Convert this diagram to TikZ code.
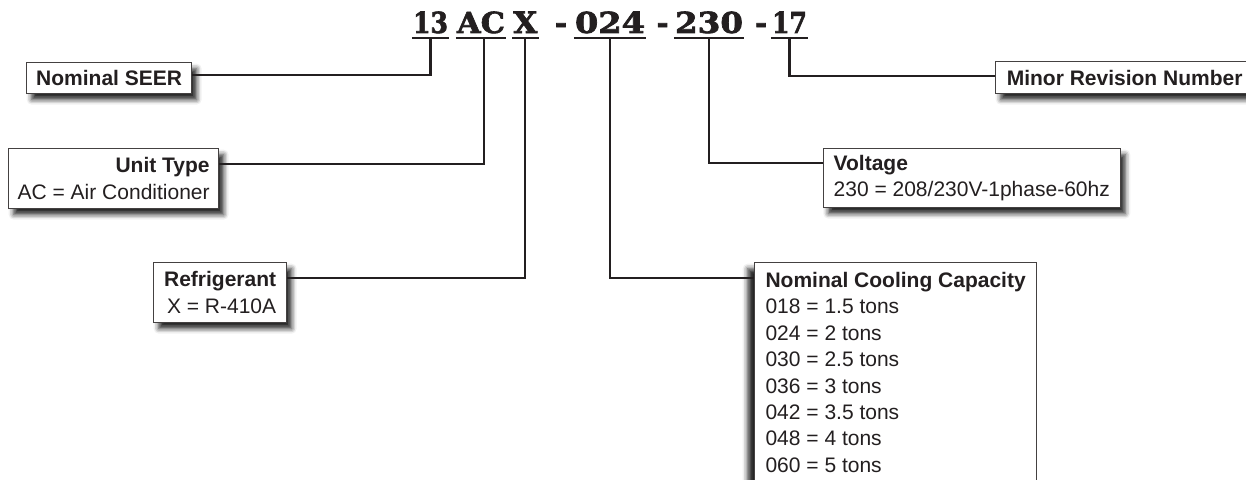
\documentclass[tikz,border=0pt]{standalone}
\usepackage{fontspec}
\setmainfont{Liberation Sans}
\newfontfamily\codefont[FakeBold=2.2]{DejaVu Serif}
\usetikzlibrary{shadows.blur}
\definecolor{ink}{HTML}{231F20}
\newcommand\codepart[2]{\resizebox{#1pt}{21.5pt}{\codefont\bfseries #2}}
\begin{document}
\begin{tikzpicture}[x=1pt,y=-1pt,
  txt/.style={font=\fontsize{21}{26.4}\selectfont, text=ink},
  box/.style={txt, draw=ink!85, line width=1.3pt, fill=white, inner xsep=8pt, inner ysep=0pt, anchor=north west,
    blur shadow={shadow xshift=5pt, shadow yshift=-6pt, shadow blur radius=5pt, shadow opacity=85}},
  leftshadowbox/.style={txt, draw=ink!85, line width=1.3pt, fill=white, inner xsep=8pt, anchor=north west,
    blur shadow={shadow xshift=-7pt, shadow yshift=-6pt, shadow blur radius=5pt, shadow opacity=85}},
  code/.style={inner xsep=1pt, inner ysep=4.7pt, anchor=base, text=ink},
  dashmark/.style={inner sep=0pt, anchor=base, text=ink, font=\codefont\bfseries\fontsize{29}{29}\selectfont},
  uline/.style={draw=ink, line width=2pt},
  conn/.style={draw=ink, line width=2.2pt},
]
\useasboundingbox (0,0) rectangle (1246,479);

% code parts
\node[code] (p13)  at (430.5,33) {\codepart{35}{13}};
\node[code] (pac)  at (481,33)   {\codepart{48}{AC}};
\node[code] (px)   at (525.3,33) {\codepart{24}{X}};
\node[dashmark] (d1) at (561,33) {-};
\node[code] (p024) at (610,33)   {\codepart{70}{024}};
\node[dashmark] (d2) at (662.5,33) {-};
\node[code] (p230) at (709,33)   {\codepart{68}{230}};
\node[dashmark] (d3) at (761,33) {-};
\node[code] (p17)  at (789.5,33) {\codepart{35}{17}};

\foreach \p in {p13,pac,px,p024,p230,p17}
  \draw[uline] (\p.south west) -- (\p.south east);

% boxes
\node[box, minimum width=165pt, minimum height=31pt] (seer) at (26,62) {\bfseries Nominal SEER};
\node[box, align=right, minimum width=210pt, minimum height=60pt] (unit) at (8,148)
  {\textbf{Unit Type}\\AC = Air Conditioner};
\node[box, align=right, minimum width=133pt, minimum height=60pt] (refr) at (153,262)
  {\textbf{Refrigerant}\\X = R-410A};
\node[box, minimum width=258pt, minimum height=32pt] (minor) at (995,61) {\bfseries Minor Revision Number};
\node[box, align=left, minimum width=297pt, minimum height=59pt] (volt) at (822.6,148)
  {\textbf{Voltage}\\230 = 208/230V-1phase-60hz};
\node[leftshadowbox, align=left, minimum width=282pt, inner ysep=9.7pt] (cap) at (754,262)
  {\textbf{Nominal Cooling Capacity}\hspace{11pt}\\018 = 1.5 tons\\024 = 2 tons\\030 = 2.5 tons\\036 = 3 tons\\042 = 3.5 tons\\048 = 4 tons\\060 = 5 tons};

% connectors
\draw[conn] (p13.south) |- ([yshift=-13pt]seer.north east);
\draw[conn] ([xshift=3pt]pac.south) |- ([yshift=-16pt]unit.north east);
\draw[conn] (px.south) |- ([yshift=-16pt]refr.north east);
\draw[conn] (p024.south) |- ([yshift=-16pt]cap.north west);
\draw[conn] (p230.south) |- ([yshift=-15pt]volt.north west);
\draw[conn] (p17.south) |- ([yshift=-15pt]minor.north west);
\end{tikzpicture}
\end{document}
